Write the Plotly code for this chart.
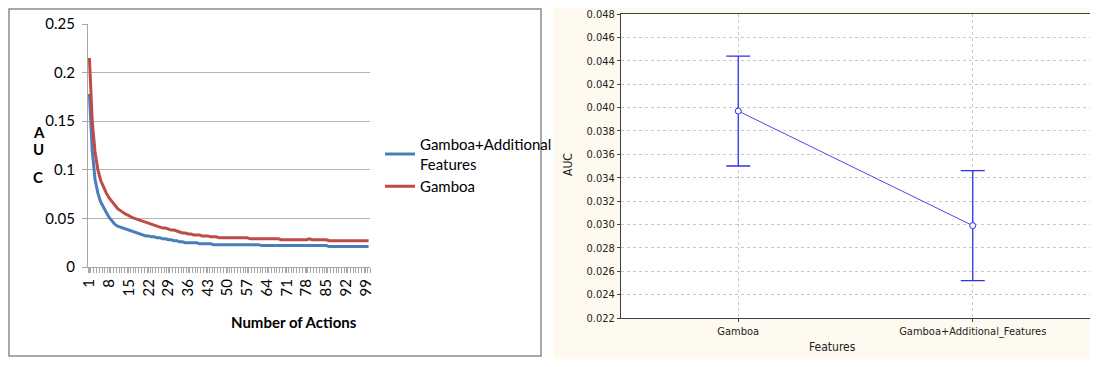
import plotly.graph_objects as go

# ---------------- data ----------------
actions = list(range(1, 101))
gamboa_additional = [
    0.178, 0.120, 0.090, 0.076, 0.067, 0.061, 0.056, 0.051, 0.047, 0.044,
    0.042, 0.041, 0.040, 0.039, 0.038, 0.037, 0.036, 0.035, 0.034, 0.033,
    0.032, 0.032, 0.031, 0.031, 0.030, 0.030, 0.029, 0.029, 0.028, 0.028,
    0.027, 0.027, 0.026, 0.026, 0.025, 0.025, 0.025, 0.025, 0.025, 0.024,
    0.024, 0.024, 0.024, 0.024, 0.023, 0.023, 0.023, 0.023, 0.023, 0.023,
    0.023, 0.023, 0.023, 0.023, 0.023, 0.023, 0.023, 0.023, 0.023, 0.023,
    0.023, 0.022, 0.022, 0.022, 0.022, 0.022, 0.022, 0.022, 0.022, 0.022,
    0.022, 0.022, 0.022, 0.022, 0.022, 0.022, 0.022, 0.022, 0.022, 0.022,
    0.022, 0.022, 0.022, 0.022, 0.022, 0.021, 0.021, 0.021, 0.021, 0.021,
    0.021, 0.021, 0.021, 0.021, 0.021, 0.021, 0.021, 0.021, 0.021, 0.021,
]
gamboa = [
    0.215, 0.150, 0.118, 0.100, 0.089, 0.082, 0.076, 0.071, 0.067, 0.063,
    0.060, 0.058, 0.056, 0.054, 0.053, 0.051, 0.050, 0.049, 0.048, 0.047,
    0.046, 0.045, 0.044, 0.043, 0.042, 0.041, 0.040, 0.040, 0.039, 0.038,
    0.038, 0.037, 0.036, 0.035, 0.035, 0.034, 0.034, 0.033, 0.033, 0.033,
    0.032, 0.032, 0.032, 0.031, 0.031, 0.031, 0.030, 0.030, 0.030, 0.030,
    0.030, 0.030, 0.030, 0.030, 0.030, 0.030, 0.030, 0.029, 0.029, 0.029,
    0.029, 0.029, 0.029, 0.029, 0.029, 0.029, 0.029, 0.029, 0.028, 0.028,
    0.028, 0.028, 0.028, 0.028, 0.028, 0.028, 0.028, 0.028, 0.029, 0.028,
    0.028, 0.028, 0.028, 0.028, 0.028, 0.027, 0.027, 0.027, 0.027, 0.027,
    0.027, 0.027, 0.027, 0.027, 0.027, 0.027, 0.027, 0.027, 0.027, 0.027,
]
x_tickvals = list(range(1, 101, 7))
left_y_tickvals = [0, 0.05, 0.1, 0.15, 0.2, 0.25]
left_y_ticktext = ["0", "0.05", "0.1", "0.15", "0.2", "0.25"]

feature_sets = ["Gamboa", "Gamboa+Additional_Features"]
mean_auc = [0.0397, 0.0299]
ci_half = [0.0047, 0.0047]

# page body has an 8px margin; size the figure so the page fits the window
OFF = 8
W, H = 1098 - 2 * OFF, 367 - 2 * OFF
def px(x): return max(0.0, min(1.0, (x - OFF) / W))
def py(y): return max(0.0, min(1.0, 1 - (y - OFF) / H))

fig = go.Figure()

fig.add_trace(go.Scatter(
    x=actions, y=gamboa_additional, mode="lines", name="Gamboa+Additional<br>Features",
    line=dict(color="#4a7ebb", width=3), xaxis="x", yaxis="y"))
fig.add_trace(go.Scatter(
    x=actions, y=gamboa, mode="lines", name="Gamboa",
    line=dict(color="#be4b48", width=3), xaxis="x", yaxis="y"))

fig.add_trace(go.Scatter(
    x=[0, 1], y=mean_auc, mode="lines+markers", showlegend=False,
    line=dict(color="#4848f0", width=1),
    marker=dict(symbol="circle", size=6, color="white", line=dict(color="#3030f0", width=1)),
    error_y=dict(type="data", array=ci_half, color="#3030f0", thickness=1.3, width=12),
    xaxis="x2", yaxis="y2"))

sans = "Lato, 'Open Sans', sans-serif"
narrow = "'Liberation Sans Narrow', 'DejaVu Sans Condensed', 'Liberation Sans', Arial, sans-serif"

fig.update_layout(
    width=W, height=H, margin=dict(l=0, r=0, t=0, b=0, autoexpand=False),
    paper_bgcolor="white", plot_bgcolor="white",
    xaxis=dict(domain=[px(88), px(370)], range=[0.5, 100.5], tickvals=x_tickvals,
               tickangle=-90, showgrid=False, showline=True, linecolor="#a6a6a6",
               ticks="outside", ticklen=5, tickcolor="#a6a6a6", automargin=False,
               minor=dict(dtick=1, tick0=0.5, ticks="outside", ticklen=5, tickcolor="#a6a6a6"),
               tickfont=dict(family=sans, size=15, color="#000"), zeroline=False, anchor="y"),
    yaxis=dict(domain=[py(267), py(24)], range=[0, 0.25], tickvals=left_y_tickvals,
               ticktext=left_y_ticktext, showgrid=True, gridcolor="#b3b3b3", gridwidth=1,
               showline=True, linecolor="#a6a6a6", zeroline=False, ticks="outside", ticklen=5,
               tickcolor="#a6a6a6", ticklabelstandoff=4, automargin=False,
               tickfont=dict(family=sans, size=15, color="#000"), anchor="x"),
    xaxis2=dict(domain=[px(621), 1.0], range=[-0.5, 1.5], tickvals=[0, 1],
                ticktext=feature_sets, showgrid=True, gridcolor="#c8c8c8", griddash="dot",
                showline=True, linecolor="#404040", mirror=True, ticks="outside",
                ticklen=3, tickcolor="#404040", zeroline=False, automargin=False,
                tickfont=dict(family=narrow, size=11, color="#222"), anchor="y2"),
    yaxis2=dict(domain=[py(318), py(14)], range=[0.022, 0.048], dtick=0.002, tick0=0.022,
                tickformat=".3f", showgrid=True, gridcolor="#c8c8c8", griddash="dot",
                showline=True, linecolor="#404040", mirror=True, ticks="outside",
                ticklen=3, tickcolor="#404040", zeroline=False, automargin=False,
                ticklabeloverflow="allow",
                tickfont=dict(family=narrow, size=11, color="#222"), anchor="x2"),
    legend=dict(x=px(380), y=py(128), xanchor="left", yanchor="top",
                font=dict(family=sans, size=15, color="#000"), bgcolor="rgba(0,0,0,0)",
                itemwidth=30, tracegroupgap=12),
    shapes=[
        dict(type="rect", xref="paper", yref="paper", x0=px(9), x1=px(541), y0=py(356), y1=py(9),
             line=dict(color="#8c8c8c", width=1.5), fillcolor="rgba(0,0,0,0)", layer="below"),
        dict(type="rect", xref="paper", yref="paper", x0=px(553), x1=1, y0=0, y1=1,
             line=dict(width=0), fillcolor="#fffaf0", layer="below"),
        dict(type="rect", xref="paper", yref="paper", x0=px(621), x1=1, y0=py(318), y1=py(14),
             line=dict(width=0), fillcolor="white", layer="below"),
    ],
    annotations=[
        dict(text="<b>A</b>", x=px(31), y=py(121), xref="paper", yref="paper", showarrow=False,
             font=dict(family=sans, size=15, color="#000")),
        dict(text="<b>U</b>", x=px(31), y=py(149), xref="paper", yref="paper", showarrow=False,
             font=dict(family=sans, size=15, color="#000")),
        dict(text="<b>C</b>", x=px(31), y=py(177), xref="paper", yref="paper", showarrow=False,
             font=dict(family=sans, size=15, color="#000")),
        dict(text="<b>Number of Actions</b>", x=px(229), y=py(333), xref="paper", yref="paper",
             showarrow=False, font=dict(family=sans, size=15, color="#000")),
        dict(text="AUC", x=px(568), y=py(165), xref="paper", yref="paper", showarrow=False,
             textangle=-90, font=dict(family=narrow, size=12, color="#222")),
        dict(text="Features", x=px(858), y=py(356), xref="paper", yref="paper", showarrow=False,
             font=dict(family=narrow, size=12, color="#222")),
    ],
)

fig.write_html("out.html")
